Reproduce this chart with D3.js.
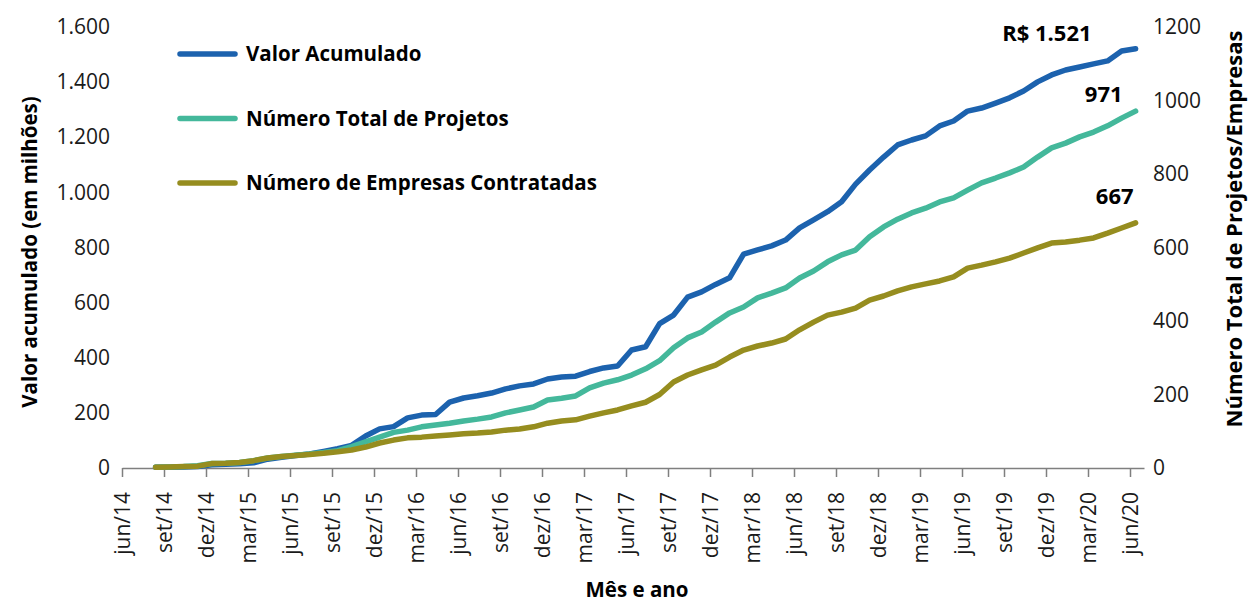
<!DOCTYPE html>
<html>
<head>
<meta charset="utf-8">
<script src="https://cdn.jsdelivr.net/npm/d3@7"></script>
<style>
    body { margin: 0; background: #fff; }
    svg { display: block; font-family: 'Open Sans', sans-serif; }
    .tick text { fill: #1a1a1a; }
</style>
</head>
<body>
<svg id="chart" width="1250" height="604"></svg>
<script>
// rótulos do eixo x (trimestrais, de jun/14 a jun/20)
const tickLabels = ['jun/14', 'set/14', 'dez/14', 'mar/15', 'jun/15', 'set/15', 'dez/15', 'mar/16',
    'jun/16', 'set/16', 'dez/16', 'mar/17', 'jun/17', 'set/17', 'dez/17', 'mar/18', 'jun/18',
    'set/18', 'dez/18', 'mar/19', 'jun/19', 'set/19', 'dez/19', 'mar/20', 'jun/20'];
// primeiro dado: ago/14 (2 meses após jun/14)
const firstMonth = 2;

// R$ milhões (eixo esquerdo)
const valorAcumulado = [3, 3, 4, 5, 12, 14, 15, 19, 32, 39, 45, 51, 60, 70, 82, 116, 142, 150, 182, 192,
    194, 239, 254, 262, 272, 287, 298, 305, 323, 330, 333, 350, 363, 370, 428, 440, 524, 555, 620, 639,
    666, 690, 776, 791, 806, 827, 871, 900, 930, 966, 1030, 1081, 1128, 1172, 1190, 1205, 1241, 1259,
    1295, 1306, 1324, 1343, 1368, 1401, 1426, 1444, 1455, 1466, 1477, 1513, 1521];
// eixo direito
const totalProjetos = [2, 3, 4, 6, 12, 13, 15, 20, 27, 31, 35, 38, 42, 47, 58, 71, 84, 97, 103, 112,
    117, 122, 128, 133, 139, 150, 158, 166, 185, 190, 196, 218, 231, 240, 253, 270, 292, 327, 354, 370,
    397, 422, 438, 463, 476, 490, 517, 536, 561, 580, 593, 629, 656, 677, 694, 707, 724, 735, 756, 776,
    789, 803, 819, 846, 871, 884, 901, 914, 931, 952, 971];
const empresasContratadas = [2, 3, 4, 5, 12, 13, 15, 20, 27, 31, 34, 37, 40, 44, 49, 57, 68, 76, 82, 84,
    87, 90, 93, 95, 98, 103, 106, 112, 122, 128, 131, 141, 150, 158, 169, 179, 200, 234, 253, 267,
    280, 302, 321, 332, 340, 351, 376, 397, 416, 424, 435, 457, 468, 482, 493, 501, 509, 520, 544, 552,
    561, 571, 585, 599, 612, 615, 620, 626, 639, 653, 667];

const leftTicks = [0, 200, 400, 600, 800, 1000, 1200, 1400, 1600];
const rightTicks = [0, 200, 400, 600, 800, 1000, 1200];

const seriesNames = ['Valor Acumulado', 'Número Total de Projetos', 'Número de Empresas Contratadas'];
const seriesColors = ['#1c62ae', '#44b89b', '#968d1f'];

const ptBR = d3.formatLocale({ decimal: ',', thousands: '.', grouping: [3], currency: ['R$ ', ''] });
const fmt = ptBR.format(',d');

const svg = d3.select('#chart');
const plotLeft = 122, plotRight = 1144, plotTop = 27, plotBottom = 468;

const x = d3.scaleLinear().domain([0, 73]).range([plotLeft, plotRight]);
const yLeft = d3.scaleLinear().domain([0, 1600]).range([plotBottom, plotTop]);
const yRight = d3.scaleLinear().domain([0, 1200]).range([plotBottom, plotTop]);

// eixo x
const xAxis = d3.axisBottom(x)
    .tickValues(tickLabels.map((d, i) => i * 3))
    .tickFormat((d, i) => tickLabels[i])
    .tickSize(9)
    .tickSizeOuter(0);
const gx = svg.append('g')
    .attr('transform', 'translate(0,' + plotBottom + ')')
    .call(xAxis)
    .attr('font-family', null)
    .attr('font-size', 21);
gx.select('.domain').attr('stroke', '#7f7f7f').attr('stroke-width', 1.5);
gx.selectAll('.tick line').attr('stroke', '#7f7f7f').attr('stroke-width', 1.5);
gx.selectAll('.tick text')
    .attr('text-anchor', 'end')
    .attr('transform', 'rotate(-90)')
    .attr('x', -24)
    .attr('y', 0)
    .attr('dy', '0.35em');

// eixo esquerdo
const gl = svg.append('g')
    .attr('transform', 'translate(110,0)')
    .call(d3.axisLeft(yLeft).tickValues(leftTicks).tickFormat(fmt).tickSize(0).tickPadding(0))
    .attr('font-family', null)
    .attr('font-size', 21);
gl.select('.domain').remove();

// eixo direito
const gr = svg.append('g')
    .attr('transform', 'translate(1153,0)')
    .call(d3.axisRight(yRight).tickValues(rightTicks).tickFormat(d3.format('d')).tickSize(0).tickPadding(0))
    .attr('font-family', null)
    .attr('font-size', 21);
gr.select('.domain').remove();

// títulos dos eixos
svg.append('text')
    .attr('transform', 'translate(37,252) rotate(-90)')
    .attr('text-anchor', 'middle')
    .attr('font-size', 20.5)
    .attr('font-weight', 'bold')
    .text('Valor acumulado (em milhões)');
svg.append('text')
    .attr('transform', 'translate(1242,229) rotate(-90)')
    .attr('text-anchor', 'middle')
    .attr('font-size', 22)
    .attr('font-weight', 'bold')
    .text('Número Total de Projetos/Empresas');
svg.append('text')
    .attr('x', 637)
    .attr('y', 597)
    .attr('text-anchor', 'middle')
    .attr('font-size', 20.5)
    .attr('font-weight', 'bold')
    .text('Mês e ano');

// linhas
const xPos = (i) => x(firstMonth + i + 0.4);
const series = [
    { values: valorAcumulado, y: yLeft },
    { values: totalProjetos, y: yRight },
    { values: empresasContratadas, y: yRight }
];
series.forEach((s, k) => {
    const line = d3.line()
        .x((d, i) => xPos(i))
        .y((d) => s.y(d));
    svg.append('path')
        .datum(s.values)
        .attr('fill', 'none')
        .attr('stroke', seriesColors[k])
        .attr('stroke-width', 5.5)
        .attr('stroke-linejoin', 'round')
        .attr('stroke-linecap', 'round')
        .attr('d', line);
});

// rótulos do último valor
const lastLabels = [
    { text: ptBR.format('$,d')(valorAcumulado[valorAcumulado.length - 1]), dx: -44, dy: -8 },
    { text: fmt(totalProjetos[totalProjetos.length - 1]), dx: -13, dy: -9 },
    { text: fmt(empresasContratadas[empresasContratadas.length - 1]), dx: -2, dy: -19 }
];
lastLabels.forEach((l, k) => {
    const vals = series[k].values;
    const n = vals.length - 1;
    svg.append('text')
        .attr('x', xPos(n) + l.dx)
        .attr('y', series[k].y(vals[n]) + l.dy)
        .attr('text-anchor', 'end')
        .attr('font-size', 22)
        .attr('font-weight', 'bold')
        .text(l.text);
});

// legenda
const legend = svg.append('g');
seriesNames.forEach((name, k) => {
    const ly = 54 + k * 64.5;
    legend.append('line')
        .attr('x1', 180).attr('x2', 235)
        .attr('y1', ly).attr('y2', ly)
        .attr('stroke', seriesColors[k])
        .attr('stroke-width', 5.5)
        .attr('stroke-linecap', 'round');
    legend.append('text')
        .attr('x', 246)
        .attr('y', ly)
        .attr('dy', '0.35em')
        .attr('font-size', 20.5)
        .attr('font-weight', 'bold')
        .text(name);
});
</script>
</body>
</html>
